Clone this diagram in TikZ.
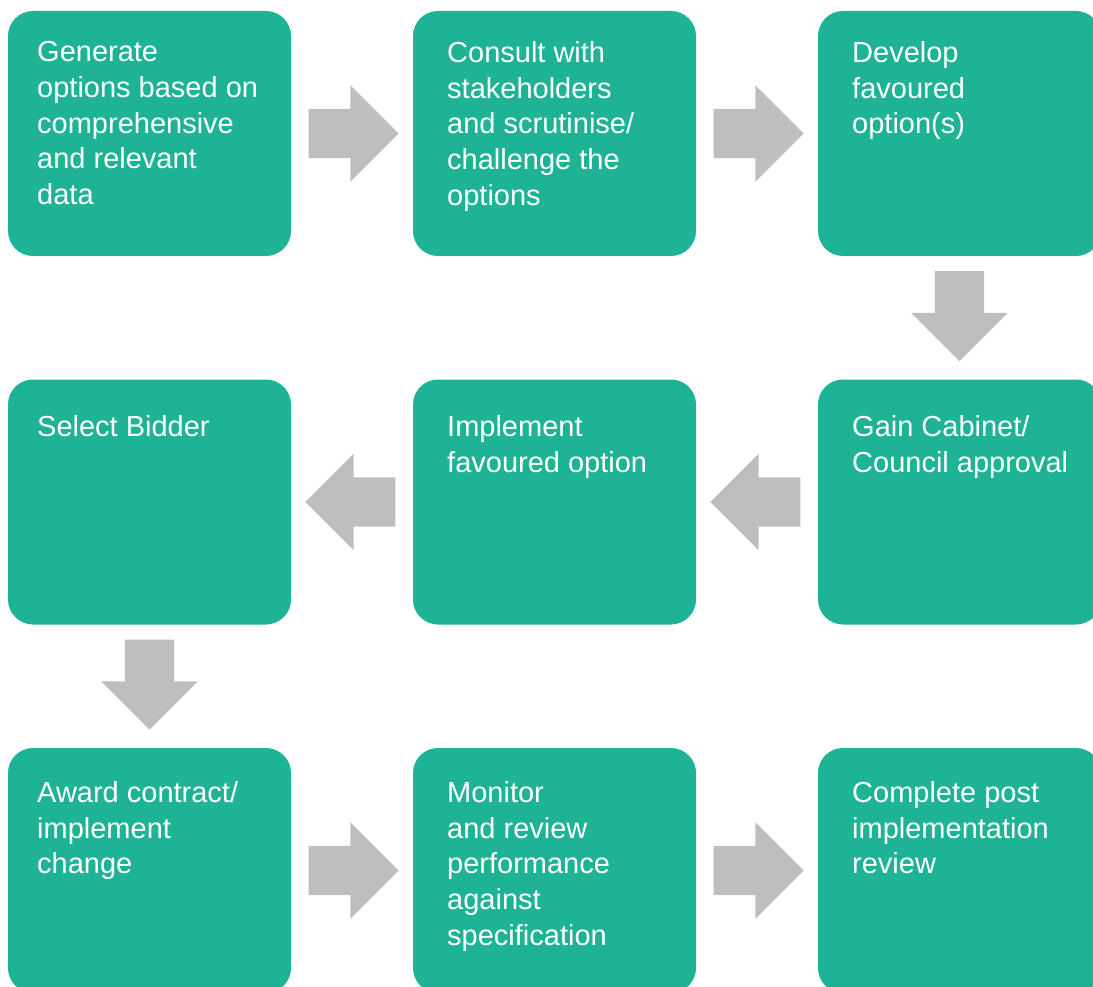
\documentclass[tikz,border=0pt]{standalone}
\usepackage{fontspec}
\setmainfont{Liberation Sans}
\usetikzlibrary{shapes.arrows}
\definecolor{stageteal}{HTML}{1DB394}
\definecolor{arrowgray}{HTML}{BDBEC0}
\begin{document}
\begin{tikzpicture}[x=1pt,y=-1pt,
    flowarrow/.style={single arrow,fill=arrowgray,draw=none,inner sep=24.5pt,
        minimum height=90pt,single arrow head extend=23.5pt,anchor=tip},
    stagetext/.style={anchor=north west,align=left,inner sep=0pt,text=white,
        font=\fontsize{29}{35.6}\selectfont}]
    \tikzstyle{stage}=[rectangle,rounded corners=25pt,fill=stageteal,minimum
        width=283pt,minimum height=245pt,inner sep=0pt]

    \useasboundingbox (0,0) rectangle (1093,987);
    \clip (0,0) rectangle (1093,987);

    % first row
    \node[stage] (b1) at (149.5,133.5) {};
    \node[stage] (b2) at (554.5,133.5) {};
    \node[stage] (b3) at (959.5,133.5) {};
    % second row
    \node[stage] (b4) at (959.5,502) {};
    \node[stage] (b5) at (554.5,502) {};
    \node[stage] (b6) at (149.5,502) {};
    % third row
    \node[stage] (b7) at (149.5,870.5) {};
    \node[stage] (b8) at (554.5,870.5) {};
    \node[stage] (b9) at (959.5,870.5) {};

    \node[stagetext] (t1) at (37,41.5) {Generate\\options based on\\comprehensive\\and relevant\\data};
    \node[stagetext] (t2) at (447,41.5) {Consult with\\stakeholders\\and scrutinise/\\challenge the\\options};
    \node[stagetext] (t3) at (852,41.5) {Develop\\favoured\\option(s)};
    \node[stagetext] (t4) at (852,415.5) {Gain Cabinet/\\Council approval};
    \node[stagetext] (t5) at (447,415.5) {Implement\\favoured option};
    \node[stagetext] (t6) at (37,415.5) {Select Bidder};
    \node[stagetext] (t7) at (37,781.5) {Award contract/\\implement\\change};
    \node[stagetext] (t8) at (447,781.5) {Monitor\\and review\\performance\\against\\specification};
    \node[stagetext] (t9) at (852,781.5) {Complete post\\implementation\\review};

    % arrows between the stages
    \node[flowarrow] (a12) at ([xshift=-14pt]b2.west) {};
    \node[flowarrow] (a23) at ([xshift=-14pt]b3.west) {};
    \node[flowarrow,shape border rotate=270] (a34) at ([yshift=18pt]b4.north) {};
    \node[flowarrow,shape border rotate=180] (a45) at ([xshift=14pt]b5.east) {};
    \node[flowarrow,shape border rotate=180] (a56) at ([xshift=14pt]b6.east) {};
    \node[flowarrow,shape border rotate=270] (a67) at ([yshift=18pt]b7.north) {};
    \node[flowarrow] (a78) at ([xshift=-14pt]b8.west) {};
    \node[flowarrow] (a89) at ([xshift=-14pt]b9.west) {};

  \end{tikzpicture}
\end{document}
